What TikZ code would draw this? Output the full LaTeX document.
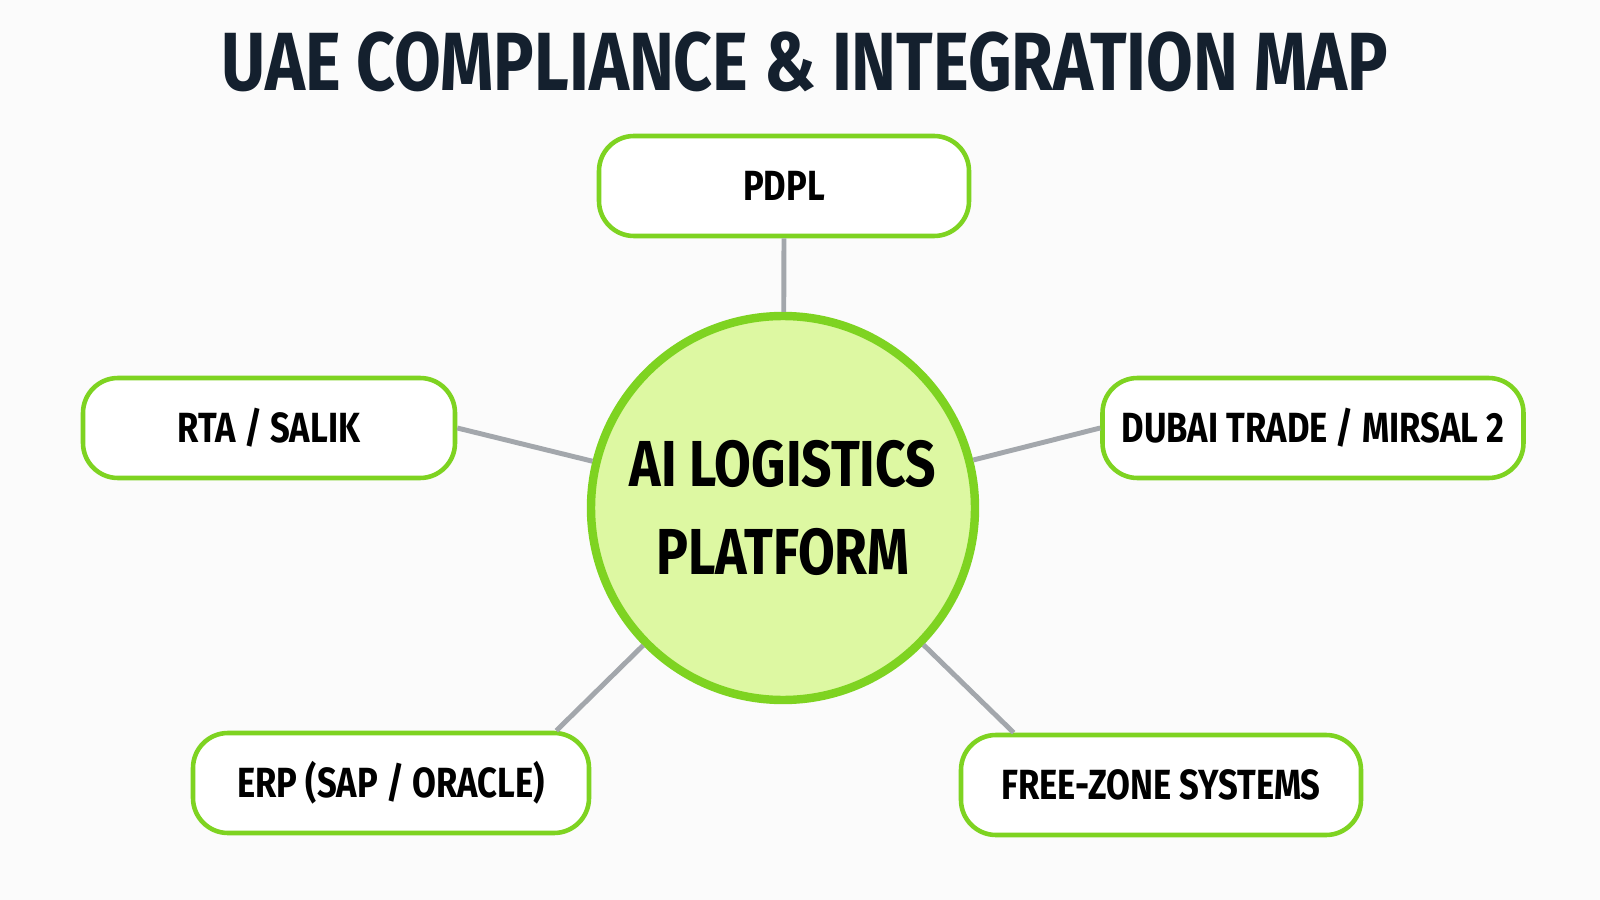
\documentclass[tikz,border=0pt]{standalone}
\usepackage{fontspec}
\setmainfont{Fira Sans}[FakeStretch=0.82]
\usetikzlibrary{calc}
\definecolor{navy}{HTML}{14202E}
\definecolor{lime}{HTML}{7ED321}
\definecolor{limefill}{HTML}{DDF8A2}
\definecolor{link}{HTML}{A3A7AC}
\begin{document}
\begin{tikzpicture}[x=0.1mm, y=-0.1mm, font=\bfseries\color{navy}]
		\useasboundingbox [fill=white!97!gray] (0, 0) rectangle (1600, 900);
		
		\node (title) at (805, 62) {\fontsize{23.5}{28}\selectfont UAE COMPLIANCE \& INTEGRATION MAP};
		
		\begin{scope}[every node/.style={rectangle, rounded corners = 3.5mm, draw = lime, line width = 1.3pt, fill = white, font=\fontsize{12}{15}\bfseries\selectfont, minimum height = 1cm}]
		\node (pdpl) [minimum width = 3.7cm] at (784, 186) {PDPL};
		\node (rta) [minimum width = 3.72cm] at (269, 428) {RTA / SALIK};
		\node (dubai) [minimum width = 4.21cm] at (1313, 428) {DUBAI TRADE / MIRSAL 2};
		\node (erp) [minimum width = 3.96cm] at (391, 783) {ERP (SAP / ORACLE)};
		\node (fz) [minimum width = 4cm] at (1161, 785) {FREE-ZONE SYSTEMS};
		\end{scope}
		
		\node (hub) [circle, draw = lime, line width = 2.4pt, fill = limefill, inner sep = 0pt, minimum size = 3.84cm, align = center, font=\fontsize{18.5}{25}\bfseries\selectfont] at (783, 508) {AI LOGISTICS\\PLATFORM};
		
		\begin{scope}[link/.style={draw = link, line width = 1.4pt}]
		\path [link] (hub) -- (pdpl.south);
		\path [link] (hub) -- (rta.east);
		\path [link] (hub) -- (dubai.west);
		\path [link] (hub) -- ($(erp.north east) + (-35, 0)$);
		\path [link] (hub) -- ($(fz.north west) + (55, 0)$);
		\end{scope}
		
		\end{tikzpicture}
\end{document}
